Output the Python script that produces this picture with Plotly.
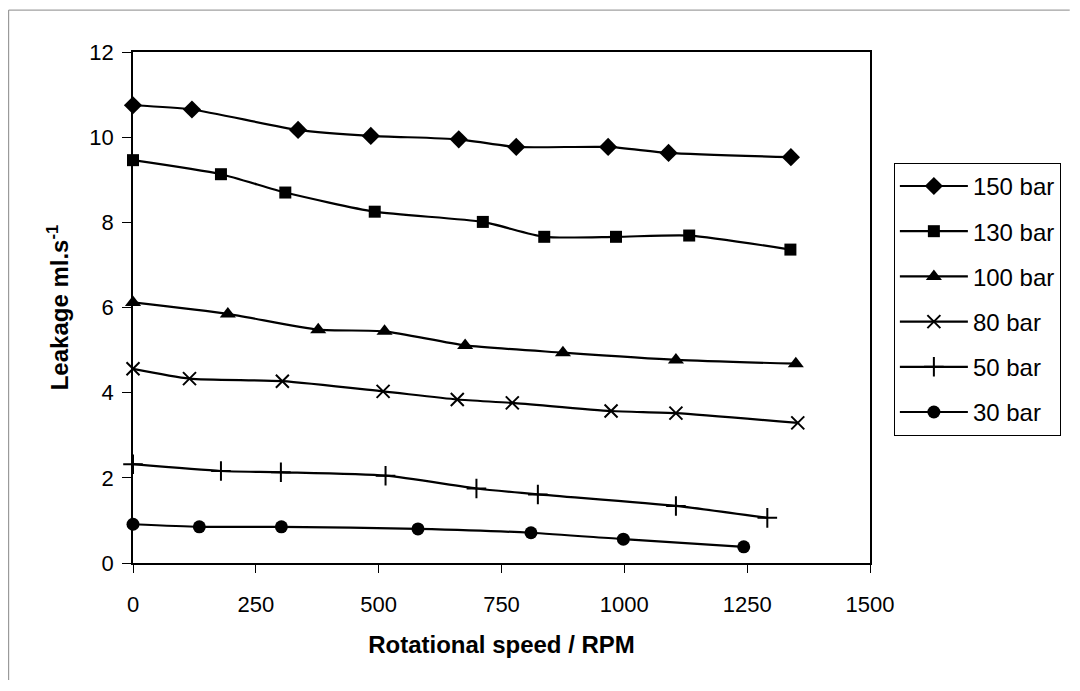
import plotly.graph_objects as go

# leakage vs rotational speed
rpm_150 = [0, 120, 336, 484, 663, 780, 967, 1090, 1339]
leak_150 = [10.75, 10.65, 10.17, 10.03, 9.95, 9.77, 9.77, 9.63, 9.53]

rpm_130 = [0, 179, 310, 492, 712, 837, 983, 1132, 1338]
leak_130 = [9.46, 9.13, 8.70, 8.25, 8.01, 7.66, 7.66, 7.69, 7.36]

rpm_100 = [0, 193, 377, 512, 676, 875, 1105, 1349]
leak_100 = [6.12, 5.85, 5.48, 5.44, 5.11, 4.94, 4.77, 4.68]

rpm_80 = [0, 115, 304, 509, 660, 772, 973, 1105, 1353]
leak_80 = [4.56, 4.33, 4.27, 4.03, 3.84, 3.76, 3.57, 3.52, 3.29]

rpm_50 = [0, 179, 301, 514, 699, 824, 1105, 1291]
leak_50 = [2.32, 2.16, 2.13, 2.05, 1.75, 1.61, 1.34, 1.06]

rpm_30 = [0, 135, 302, 580, 810, 998, 1243]
leak_30 = [0.91, 0.85, 0.85, 0.80, 0.71, 0.56, 0.38]

series = [
    ("150 bar", rpm_150, leak_150, "diamond", 14),
    ("130 bar", rpm_130, leak_130, "square", 12),
    ("100 bar", rpm_100, leak_100, "triangle-up", 14),
    ("80 bar", rpm_80, leak_80, "x-thin", 13),
    ("50 bar", rpm_50, leak_50, "cross-thin", 14),
    ("30 bar", rpm_30, leak_30, "circle", 13),
]

font_family = "Liberation Sans, Arial, sans-serif"

fig = go.Figure()
for i, (name, x, y, sym, size) in enumerate(series):
    thin = sym.endswith("-thin")
    fig.add_trace(go.Scatter(
        x=x, y=y, name=name, mode="lines+markers",
        line=dict(color="black", width=2.2, shape="spline", smoothing=0.6),
        marker=dict(symbol=sym, size=size, color="black",
                    line=dict(color="black", width=2 if thin else 0)),
        cliponaxis=False,
        legendgroup=str(i),
    ))

# page body has an 8px margin, so the figure is kept a bit smaller than the window
fig.update_layout(
    width=1064, height=675,
    margin=dict(l=125, r=201, t=44, b=120),
    paper_bgcolor="white", plot_bgcolor="white",
    font=dict(family=font_family, size=22, color="black"),
    showlegend=True,
    legend=dict(
        x=1.031, y=0.783, xanchor="left", yanchor="top",
        bordercolor="black", borderwidth=1,
        font=dict(size=24),
        itemwidth=68,
        tracegroupgap=11,
        traceorder="grouped",
    ),
    shapes=[
        dict(type="line", xref="paper", yref="paper",
             x0=-0.1687, x1=1.271, y0=1.082, y1=1.082,
             line=dict(color="#888888", width=1)),
        dict(type="line", xref="paper", yref="paper",
             x0=-0.1687, x1=-0.1687, y0=1.082, y1=-0.229,
             line=dict(color="#888888", width=1)),
    ],
)

fig.update_xaxes(
    range=[0, 1500], dtick=250, tick0=0,
    showgrid=False, zeroline=False,
    showline=True, linecolor="black", linewidth=1.5, mirror=True,
    ticks="outside", ticklen=8, tickcolor="black",
    tickfont=dict(size=22), ticklabelstandoff=13,
    title=dict(text="<b>Rotational speed / RPM</b>", font=dict(size=24), standoff=20),
)
fig.update_yaxes(
    range=[0, 12], dtick=2, tick0=0,
    showgrid=False, zeroline=False,
    showline=True, linecolor="black", linewidth=1.5, mirror=True,
    ticks="outside", ticklen=9, tickcolor="black",
    tickfont=dict(size=22), ticklabelstandoff=4,
    title=dict(text="<b>Leakage ml.s<sup>-1</sup></b>", font=dict(size=24), standoff=14),
)

fig.write_html("out.html")
